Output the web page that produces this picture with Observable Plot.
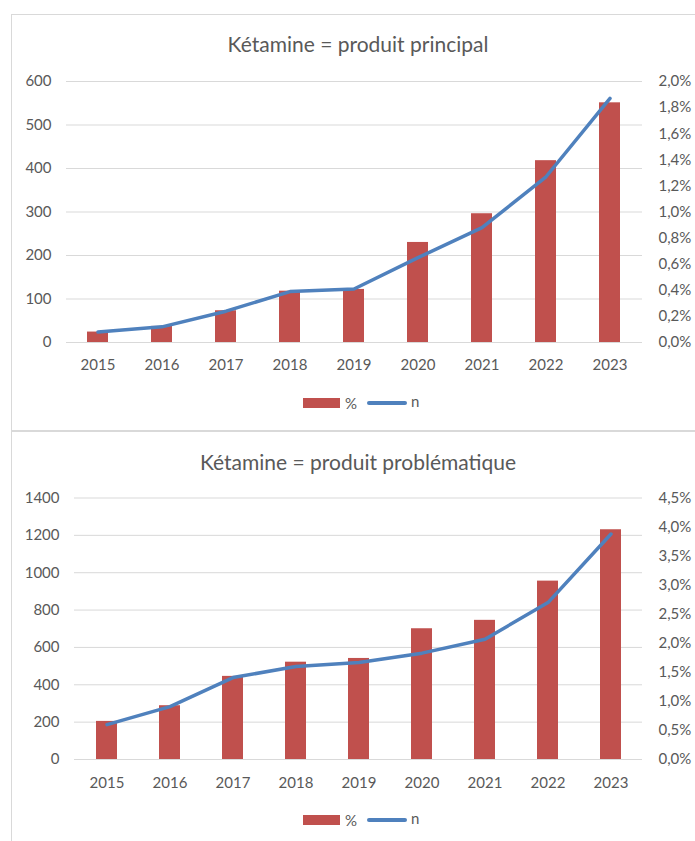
<!DOCTYPE html>
<html>
<head>
<meta charset="utf-8">
<script src="https://cdn.jsdelivr.net/npm/d3@7"></script>
<script src="https://cdn.jsdelivr.net/npm/@observablehq/plot@0.6"></script>
<style>
  body { margin: 0; background: #fff; font-family: Lato, "Open Sans", sans-serif; color: #595959; }
  #page { position: relative; width: 695px; height: 841px; overflow: hidden; background: #fff; }
  .rule { position: absolute; background: #d9d9d9; }
  .title { position: absolute; left: 11px; width: 694px; text-align: center; font-size: 21px; line-height: 24px; white-space: nowrap; }
  .chart { position: absolute; left: 0; }
  .chart svg { position: absolute; left: 0; top: 0; }
  .swatch { position: absolute; }
  .ltext { position: absolute; font-size: 15px; line-height: 20px; }
</style>
</head>
<body>
<div id="page"></div>
<script>
// Années
const years = [2015, 2016, 2017, 2018, 2019, 2020, 2021, 2022, 2023];

// Kétamine = produit principal
const principalBars = [24, 37, 73, 118, 122, 230, 296, 418, 551];        // série « % » (axe gauche)
const principalLine = [0.08, 0.12, 0.24, 0.39, 0.41, 0.65, 0.88, 1.27, 1.87]; // série « n » (axe droit, %)
const principalLeftTicks = [0, 100, 200, 300, 400, 500, 600];
const principalRightTicks = [0, 0.2, 0.4, 0.6, 0.8, 1.0, 1.2, 1.4, 1.6, 1.8, 2.0];

// Kétamine = produit problématique
const problemBars = [204, 288, 445, 521, 541, 700, 745, 955, 1230];
const problemLine = [0.60, 0.91, 1.41, 1.60, 1.67, 1.83, 2.07, 2.70, 3.88];
const problemLeftTicks = [0, 200, 400, 600, 800, 1000, 1200, 1400];
const problemRightTicks = [0, 0.5, 1.0, 1.5, 2.0, 2.5, 3.0, 3.5, 4.0, 4.5];

const legendLabels = ["%", "n"];
const barColor = "#c0504d";
const lineColor = "#4f81bd";
const gridColor = "#d9d9d9";
const textColor = "#595959";

const page = document.getElementById("page");

function el(cls, css, text) {
  const d = document.createElement("div");
  d.className = cls;
  Object.assign(d.style, css);
  if (text != null) d.textContent = text;
  page.appendChild(d);
  return d;
}

const pct = d => d.toFixed(1).replace(".", ",") + "%";

function panel({title, titleTop, svgTop, height, mt, mb, ml, mr, xPad, bars, line, leftTicks, rightTicks, legendY}) {
  el("title", {top: titleTop + "px"}, title);

  const rows = years.map((year, i) => ({year, bar: bars[i], line: line[i]}));
  const xScale = {type: "band", domain: years, paddingInner: 2 / 3, paddingOuter: 1 / 3};
  const common = {
    width: 695, height,
    marginTop: mt, marginBottom: mb, marginLeft: ml, marginRight: mr,
    style: {background: "transparent", fontFamily: "Lato, sans-serif", fontSize: "15px", color: textColor, overflow: "visible"}
  };

  const wrap = el("chart", {top: svgTop + "px", width: "695px", height: height + "px"});

  // Barres + axe gauche + axe des années
  const base = Plot.plot({
    ...common,
    x: {...xScale, axis: null},
    y: {domain: [0, d3.max(leftTicks)], axis: null},
    marks: [
      Plot.gridY(leftTicks, {stroke: gridColor, strokeOpacity: 1, strokeWidth: 1}),
      Plot.barY(rows, {x: "year", y: "bar", fill: barColor}),
      Plot.axisY(leftTicks, {anchor: "left", tickSize: 0, tickPadding: 15, label: null, tickFormat: d => String(d), fill: textColor}),
      Plot.axisX({anchor: "bottom", tickSize: 0, tickPadding: xPad, label: null, tickFormat: d => String(d), fill: textColor})
    ]
  });
  wrap.appendChild(base);

  // Courbe + axe droit (en %)
  const over = Plot.plot({
    ...common,
    x: {...xScale, axis: null},
    y: {domain: [0, d3.max(rightTicks)], axis: null},
    marks: [
      Plot.line(rows, {x: "year", y: "line", stroke: lineColor, strokeWidth: 3.5, strokeLinecap: "round", strokeLinejoin: "round"}),
      Plot.axisY(rightTicks, {anchor: "right", tickSize: 0, tickPadding: 16, label: null, tickFormat: pct, fill: textColor})
    ]
  });
  wrap.appendChild(over);

  // Légende
  el("swatch", {left: "303px", top: (legendY - 5) + "px", width: "37px", height: "10px", background: barColor});
  el("ltext", {left: "345px", top: (legendY - 10.5) + "px"}, legendLabels[0]);
  el("swatch", {left: "367px", top: (legendY - 1.75) + "px", width: "40px", height: "3.5px", background: lineColor, borderRadius: "2px"});
  el("ltext", {left: "411px", top: (legendY - 12) + "px"}, legendLabels[1]);
}

// Cadres
el("rule", {left: "11px", top: "14px", width: "684px", height: "1px"});
el("rule", {left: "11px", top: "14px", width: "1px", height: "827px"});
el("rule", {left: "11px", top: "430px", width: "684px", height: "2px"});

panel({
  title: "Kétamine = produit principal", titleTop: 31.5,
  svgTop: 60, height: 320, mt: 21, mb: 38, ml: 66, mr: 53, xPad: 17,
  bars: principalBars, line: principalLine,
  leftTicks: principalLeftTicks, rightTicks: principalRightTicks, legendY: 403
});

panel({
  title: "Kétamine = produit problématique", titleTop: 449.5,
  svgTop: 480, height: 320, mt: 17.5, mb: 41, ml: 74, mr: 53, xPad: 17.5,
  bars: problemBars, line: problemLine,
  leftTicks: problemLeftTicks, rightTicks: problemRightTicks, legendY: 820
});
</script>
</body>
</html>
